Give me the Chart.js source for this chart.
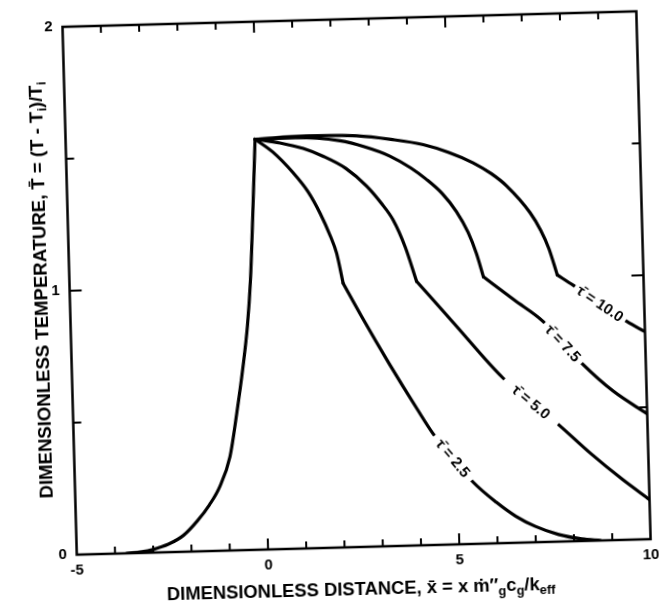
<!DOCTYPE html>
<html>
<head>
<meta charset="utf-8">
<script src="https://cdn.jsdelivr.net/npm/chart.js@4/dist/chart.umd.min.js"></script>
<style>
    html, body { margin: 0; padding: 0; background: #fff; overflow: hidden; }
    #wrap { width: 659px; height: 609px; }
    /* the scanned figure sits slightly tilted on the page */
    #chart { display: block; transform: rotate( -1.55deg ); transform-origin: 356.5px 281px; }
</style>
</head>
<body>
<div id="wrap"><canvas id="chart" width="659" height="609"></canvas></div>
<script>

    /**
     * chart data
     * each decay curve is split at its kink (T = 1) so the corner stays sharp
     */

    const riseX = [ -3.7, -3.3, -3.0, -2.6, -2.2, -1.83, -1.5, -1.21, -0.93, -0.72, -0.53, -0.38, -0.27, -0.17, -0.05 ];
    const riseY = [ 0, 0.004, 0.012, 0.03, 0.062, 0.115, 0.175, 0.245, 0.355, 0.52, 0.69, 0.85, 1.02, 1.25, 1.555 ];

    const tau25UpperX = [ -0.05, 0.4, 0.92, 1.3, 1.59, 1.85, 2.0, 2.15 ];
    const tau25UpperY = [ 1.555, 1.505, 1.424, 1.35, 1.27, 1.18, 1.115, 1.0 ];
    const tau25LowerX = [ 2.15, 2.6, 3.3, 4.0, 4.4, 5.4, 6.0, 6.5, 7.0, 7.6, 8.2, 8.7 ];
    const tau25LowerY = [ 1.0, 0.875, 0.69, 0.515, 0.42, 0.235, 0.155, 0.1, 0.06, 0.027, 0.008, 0 ];

    const tau50UpperX = [ -0.05, 0.6, 1.2, 1.72, 2.3, 2.83, 3.2, 3.5, 3.8, 4.07 ];
    const tau50UpperY = [ 1.555, 1.538, 1.515, 1.483, 1.435, 1.366, 1.3, 1.235, 1.13, 1.0 ];
    const tau50LowerX = [ 4.07, 5.0, 6.26, 7.7, 8.5, 9.3, 10 ];
    const tau50LowerY = [ 1.0, 0.84, 0.625, 0.44, 0.33, 0.23, 0.15 ];

    const tau75UpperX = [ -0.05, 1.0, 2.17, 2.8, 3.46, 4.0, 4.4, 4.8, 5.16, 5.45, 5.65, 5.82 ];
    const tau75UpperY = [ 1.555, 1.556, 1.54, 1.515, 1.477, 1.43, 1.385, 1.33, 1.26, 1.18, 1.1, 1.01 ];
    const tau75LowerX = [ 5.82, 6.6, 7.35, 8.36, 9.13, 10 ];
    const tau75LowerY = [ 1.01, 0.92, 0.835, 0.668, 0.564, 0.475 ];

    const tau100UpperX = [ -0.05, 1.3, 2.61, 3.5, 4.34, 5.0, 5.63, 6.1, 6.49, 7.08, 7.35, 7.55, 7.75 ];
    const tau100UpperY = [ 1.555, 1.562, 1.557, 1.54, 1.517, 1.485, 1.443, 1.4, 1.352, 1.249, 1.18, 1.11, 1.01 ];
    const tau100LowerX = [ 7.75, 8.16, 9.54, 10 ];
    const tau100LowerY = [ 1.01, 0.969, 0.826, 0.786 ];

    // curve labels sit in a gap of the line, between these two data points
    const curveLabels = [ 'τ̄ = 2.5', 'τ̄ = 5.0', 'τ̄ = 7.5', 'τ̄ = 10.0' ];
    const labelFrom = [ [ 4.4, 0.42 ], [ 6.26, 0.625 ], [ 7.35, 0.835 ], [ 8.16, 0.969 ] ];
    const labelTo = [ [ 5.4, 0.235 ], [ 7.7, 0.44 ], [ 8.36, 0.668 ], [ 9.54, 0.826 ] ];

    const xMin = -5, xMax = 10, xLabelStep = 5;
    const yMin = 0, yMax = 2, yLabelStep = 1;
    const xMinorTicks = [ -4, -3, -2, -1, 0, 1, 2, 3, 4, 5, 6, 7, 8, 9 ];
    const yMinorTicks = [ 0.5, 1, 1.5 ];

    const xTitle = [ [ 'DIMENSIONLESS DISTANCE, x̄ = x ṁ″' ], [ 'g', 'sub' ], [ 'c' ], [ 'g', 'sub' ], [ '/k' ], [ 'eff', 'sub' ] ];
    const yTitle = [ [ 'DIMENSIONLESS TEMPERATURE, T̄ = (T - T' ], [ 'i', 'sub' ], [ ')/T' ], [ 'i', 'sub' ] ];

    const FONT = "'Liberation Sans', Arial, sans-serif";

    /**
     * helpers
     */

    function points( xs, ys ) {

        return xs.map( ( x, i ) => ( { x: x, y: ys[ i ] } ) );

    }

    function curve( xs, ys ) {

        return {
            data: points( xs, ys ),
            borderColor: '#000',
            borderWidth: 3.2,
            borderCapStyle: 'round',
            borderJoinStyle: 'round',
            pointRadius: 0,
            fill: false,
            cubicInterpolationMode: 'monotone'
        };

    }

    // text with small subscripts, centred on (cx, cy), fitted to a given width
    function drawRich( ctx, parts, cx, cy, width ) {

        let w = 0;

        parts.forEach( p => {
            ctx.font = 'bold ' + ( p[1] ? 70 : 100 ) + 'px ' + FONT;
            w += ctx.measureText( p[0] ).width;
        } );

        let size = 100 * width / w;
        let x = cx - width / 2;

        ctx.textBaseline = 'middle';
        ctx.textAlign = 'left';

        parts.forEach( p => {
            let s = p[1] ? size * 0.7 : size;
            ctx.font = 'bold ' + s + 'px ' + FONT;
            ctx.fillText( p[0], x, p[1] ? cy + size * 0.3 : cy );
            x += ctx.measureText( p[0] ).width;
        } );

    }

    /**
     * frame, inward ticks, curve labels and titles
     */

    const figurePlugin = {
        id: 'figure',
        afterDatasetsDraw( chart ) {

            const { ctx, chartArea: a, scales: { x, y } } = chart;

            ctx.save();
            ctx.fillStyle = '#000';
            ctx.strokeStyle = '#000';

            // labels on the curves
            curveLabels.forEach( ( text, i ) => {

                let x1 = x.getPixelForValue( labelFrom[ i ][0] ), y1 = y.getPixelForValue( labelFrom[ i ][1] );
                let x2 = x.getPixelForValue( labelTo[ i ][0] ), y2 = y.getPixelForValue( labelTo[ i ][1] );
                let len = Math.hypot( x2 - x1, y2 - y1 );

                ctx.save();
                ctx.translate( ( x1 + x2 ) / 2, ( y1 + y2 ) / 2 );
                ctx.rotate( Math.atan2( y2 - y1, x2 - x1 ) );
                ctx.fillStyle = '#fff';
                ctx.fillRect( -len / 2 + 2, -10, len - 4, 20 );
                ctx.fillStyle = '#000';
                ctx.font = 'bold 15px ' + FONT;
                ctx.textAlign = 'center';
                ctx.textBaseline = 'middle';
                ctx.fillText( text, 0, 1 );
                ctx.restore();

            } );

            // frame
            ctx.lineWidth = 2.5;
            ctx.strokeRect( a.left, a.top, a.width, a.height );

            // inward ticks
            ctx.lineWidth = 2;
            ctx.beginPath();

            xMinorTicks.forEach( v => {
                let px = x.getPixelForValue( v );
                let len = v % 5 === 0 ? 11 : 7;
                ctx.moveTo( px, a.bottom );
                ctx.lineTo( px, a.bottom - len );
                ctx.moveTo( px, a.top );
                ctx.lineTo( px, a.top + len );
            } );

            yMinorTicks.forEach( v => {
                let py = y.getPixelForValue( v );
                let len = v === 1 ? 12 : 8;
                ctx.moveTo( a.left, py );
                ctx.lineTo( a.left + len, py );
                ctx.moveTo( a.right, py );
                ctx.lineTo( a.right - len, py );
            } );

            ctx.stroke();

            // axis titles
            drawRich( ctx, xTitle, ( a.left + a.right ) / 2 - 3.5, a.bottom + 43, 389 );

            ctx.translate( a.left - 27.5, ( a.top + a.bottom ) / 2 - 1.5 );
            ctx.rotate( -Math.PI / 2 );
            drawRich( ctx, yTitle, 0, 0, 417 );

            ctx.restore();

        }
    };

    /**
     * create chart
     */

    new Chart( document.getElementById( 'chart' ), {
        type: 'line',
        data: {
            datasets: [
                curve( riseX, riseY ),
                curve( tau25UpperX, tau25UpperY ),
                curve( tau25LowerX, tau25LowerY ),
                curve( tau50UpperX, tau50UpperY ),
                curve( tau50LowerX, tau50LowerY ),
                curve( tau75UpperX, tau75UpperY ),
                curve( tau75LowerX, tau75LowerY ),
                curve( tau100UpperX, tau100UpperY ),
                curve( tau100LowerX, tau100LowerY )
            ]
        },
        options: {
            responsive: false,
            animation: false,
            devicePixelRatio: 1,
            layout: {
                padding: { left: 0, right: 15.5, top: 15, bottom: 0 }
            },
            plugins: {
                legend: { display: false },
                tooltip: { enabled: false }
            },
            scales: {
                x: {
                    type: 'linear',
                    min: xMin,
                    max: xMax,
                    afterFit: ( scale ) => { scale.height = 62; },
                    border: { display: false },
                    grid: { display: false, drawTicks: false },
                    ticks: {
                        stepSize: xLabelStep,
                        autoSkip: false,
                        maxRotation: 0,
                        padding: 7,
                        color: '#000',
                        font: { family: FONT, size: 15, weight: 'bold' }
                    }
                },
                y: {
                    type: 'linear',
                    min: yMin,
                    max: yMax,
                    afterFit: ( scale ) => { scale.width = 69.5; },
                    border: { display: false },
                    grid: { display: false, drawTicks: false },
                    ticks: {
                        stepSize: yLabelStep,
                        autoSkip: false,
                        padding: 10,
                        color: '#000',
                        font: { family: FONT, size: 15, weight: 'bold' }
                    }
                }
            }
        },
        plugins: [ figurePlugin ]
    } );

</script>
</body>
</html>
